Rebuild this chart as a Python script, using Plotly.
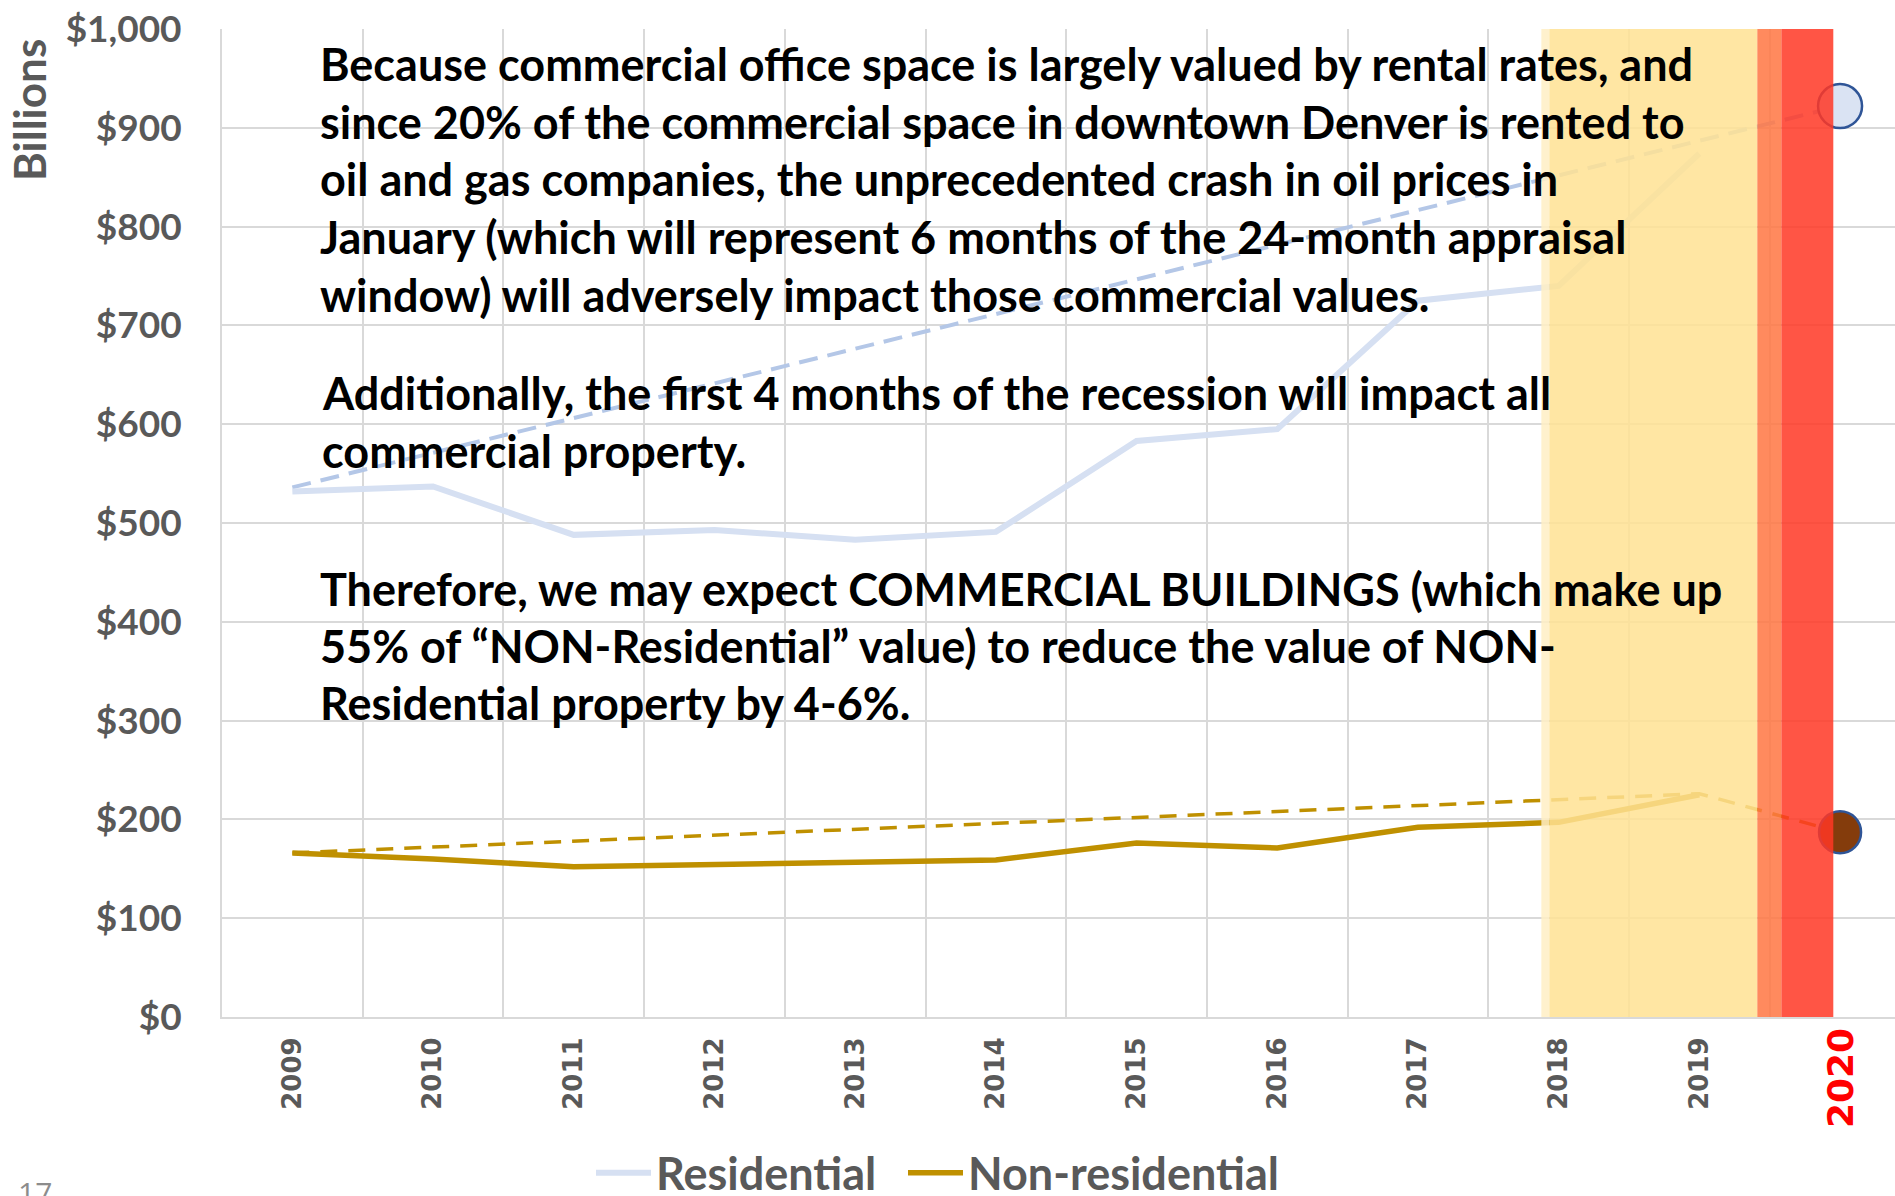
import plotly.graph_objects as go

# ---------------- data ----------------
years = ["2009", "2010", "2011", "2012", "2013", "2014", "2015", "2016", "2017", "2018", "2019", "2020"]
residential = [532, 537, 488, 493, 483, 491, 583, 595, 725, 740, 874]
non_residential = [166, 160, 152, 154, 157, 159, 176, 171, 192, 197, 225]
res_trend_years = ["2009", "2020"]
res_trend = [536, 922]
nonres_trend_years = ["2009", "2019", "2020"]
nonres_trend = [166, 226, 187]
res_2020_projection = [922]
nonres_2020_projection = [187]
y_ticks = [0, 100, 200, 300, 400, 500, 600, 700, 800, 900, 1000]
y_ticklabels = ["$0", "$100", "$200", "$300", "$400", "$500", "$600", "$700", "$800", "$900", "$1,000"]

text_block_1 = [
    "Because commercial office space is largely valued by rental rates, and",
    "since 20% of the commercial space in downtown Denver is rented to",
    "oil and gas companies, the unprecedented crash in oil prices in",
    "January (which will represent 6 months of the 24-month appraisal",
    "window) will adversely impact those commercial values.",
]
text_block_2 = [
    "Additionally, the first 4 months of the recession will impact all",
    "commercial property.",
]
text_block_3 = [
    "Therefore, we may expect COMMERCIAL BUILDINGS (which make up",
    "55% of \u201cNON-Residential\u201d value) to reduce the value of NON-",
    "Residential property by 4-6%.",
]

idx = {y: i for i, y in enumerate(years)}

# ---------------- layout geometry ----------------
FIG_W, FIG_H = 1895, 1196
L, T = 222, 29
BOTTOM = 1017
W = FIG_W - L
H = BOTTOM - T
UNIT = 140.7  # px per category


def px_x(px):
    return (px - L) / W


def px_y(py):
    return (BOTTOM - py) / H


GREY = "#595959"
MAIN_FONT = "Lato"

fig = go.Figure()

# trend (dashed) lines
fig.add_trace(go.Scatter(
    x=[idx[y] for y in res_trend_years], y=res_trend, mode="lines",
    line=dict(color="#B4C7E7", width=4, dash="19px,10px"), showlegend=False, hoverinfo="skip"))
fig.add_trace(go.Scatter(
    x=[idx[y] for y in nonres_trend_years], y=nonres_trend, mode="lines",
    line=dict(color="#BF9000", width=3.5, dash="17px,11px"), showlegend=False, hoverinfo="skip"))

# actual lines
fig.add_trace(go.Scatter(
    x=list(range(len(residential))), y=residential, mode="lines", name="Residential",
    line=dict(color="#D6E0F2", width=6), legend="legend"))
fig.add_trace(go.Scatter(
    x=list(range(len(non_residential))), y=non_residential, mode="lines", name="Non-residential",
    line=dict(color="#BF9000", width=5.5), legend="legend2"))

# 2020 projection circles
fig.add_trace(go.Scatter(
    x=[idx["2020"]], y=res_2020_projection, mode="markers", showlegend=False,
    marker=dict(size=44, color="#DAE3F3", line=dict(color="#2F5597", width=2.5))))
fig.add_trace(go.Scatter(
    x=[idx["2020"]], y=nonres_2020_projection, mode="markers", showlegend=False,
    marker=dict(size=42, color="#843C0C", line=dict(color="#2F5597", width=2.5))))

# highlighted bands (above traces, semi-transparent)
bands = [
    (8.877, 8.934, "rgb(255,238,196)", 0, 1000),
    (8.934, 10.412, "rgb(255,226,147)", 0, 1000),
    (10.412, 10.583, "rgb(255,118,66)", 0, 1003),
    (10.583, 10.952, "rgb(255,55,36)", -1, 1003),
]
for x0, x1, col, y0, y1 in bands:
    fig.add_shape(type="rect", xref="x", yref="y", x0=x0, x1=x1, y0=y0, y1=y1,
                  fillcolor=col, opacity=0.85, line=dict(width=0), layer="above")

annotations = []
block_centers = [
    (318, [64, 122, 179, 237, 295], text_block_1),
    (320, [393, 451], text_block_2),
    (318, [589, 646, 703], text_block_3),
]
for xpx, ys, lines in block_centers:
    for ypx, line in zip(ys, lines):
        annotations.append(dict(
            text=line, xref="paper", yref="paper", x=px_x(xpx), y=px_y(ypx),
            xanchor="left", yanchor="middle", showarrow=False,
            font=dict(family=MAIN_FONT, size=45, color="black", weight="bold")))

# y-axis title
annotations.append(dict(
    text="Billions", xref="paper", yref="paper", x=px_x(29), y=px_y(110),
    xanchor="center", yanchor="middle", textangle=-90, showarrow=False,
    font=dict(family=MAIN_FONT, size=44, color=GREY, weight="bold")))
# highlighted 2020 label
annotations.append(dict(
    text="2020", xref="x", yref="paper", x=idx["2020"], y=px_y(1078),
    xanchor="center", yanchor="middle", textangle=-90, showarrow=False,
    font=dict(family="DejaVu Sans", size=36, color="#FF0000", weight="bold")))
# slide number
annotations.append(dict(
    text="17", xref="paper", yref="paper", x=px_x(16), y=px_y(1170),
    xanchor="left", yanchor="top", showarrow=False,
    font=dict(family="Open Sans", size=30, color="#8C8C8C")))

x_ticktext = years[:-1] + [""]

legend_common = dict(
    orientation="h", xanchor="left", yanchor="middle",
    font=dict(family=MAIN_FONT, size=45, color=GREY, weight="bold"),
    bgcolor="rgba(0,0,0,0)", itemwidth=55,
)

fig.update_layout(
    width=FIG_W, height=FIG_H,
    template="none",
    paper_bgcolor="white", plot_bgcolor="white",
    margin=dict(l=L, r=0, t=T, b=FIG_H - BOTTOM, autoexpand=False),
    xaxis=dict(
        range=[-0.5, -0.5 + W / UNIT],
        tickmode="array", tickvals=list(range(len(years))), ticktext=x_ticktext,
        tickangle=-90, showgrid=False, zeroline=False, automargin=False,
        tickfont=dict(family="DejaVu Sans", size=26, color=GREY, weight="bold"),
        ticks="", ticklabelstandoff=8,
        showline=True, linecolor="#D9D9D9", linewidth=2,
        minor=dict(tickmode="array", tickvals=[k - 0.5 for k in range(13)],
                   showgrid=True, gridcolor="#D9D9D9", gridwidth=1.5, ticks=""),
    ),
    yaxis=dict(
        range=[0, 1000], tickmode="array", tickvals=y_ticks, ticktext=y_ticklabels,
        showgrid=True, gridcolor="#D9D9D9", gridwidth=2,
        zeroline=False, automargin=False, ticks="", ticklabelstandoff=31,
        tickfont=dict(family=MAIN_FONT, size=37, color=GREY, weight="bold"),
        showline=True, linecolor="#D9D9D9", linewidth=2,
    ),
    legend=dict(x=px_x(591), y=px_y(1173), **legend_common),
    legend2=dict(x=px_x(903), y=px_y(1173), **legend_common),
    annotations=annotations,
    showlegend=True,
)

fig.write_html(
    "out.html",
    config={"displayModeBar": False},
    post_script="document.body.style.margin='0';document.body.style.padding='0';"
                "document.body.style.overflow='hidden';",
)
